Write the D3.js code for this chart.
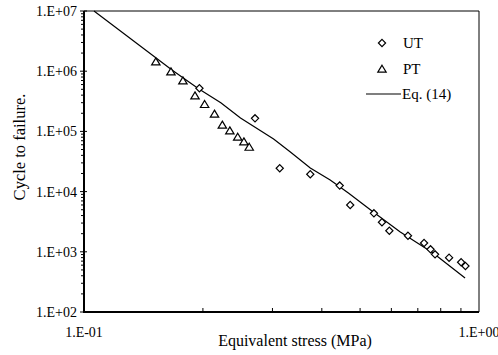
<!DOCTYPE html>
<html>
<head>
<meta charset="utf-8">
<script src="https://cdn.jsdelivr.net/npm/d3@7"></script>
<style>
  body { margin: 0; background: #fff; }
  svg text { font-family: "Liberation Serif", "Times New Roman", serif; fill: #000; }
</style>
</head>
<body>
<div class="svg-container"></div>
<script>
/* global d3 */

// UT data: [stress (MPa), cycles]
var utStress = [0.196, 0.271, 0.313, 0.374, 0.444, 0.472, 0.542, 0.568, 0.593, 0.661, 0.726, 0.754, 0.774, 0.840, 0.901, 0.924]
var utCycles = [5.2e5, 1.65e5, 2.44e4, 1.94e4, 1.26e4, 6.0e3, 4.36e3, 3.1e3, 2.24e3, 1.85e3, 1.40e3, 1.10e3, 908, 798, 670, 581]

// PT data
var ptStress = [0.152, 0.166, 0.178, 0.191, 0.202, 0.214, 0.224, 0.234, 0.245, 0.254, 0.262]
var ptCycles = [1.44e6, 9.8e5, 6.95e5, 3.92e5, 2.82e5, 1.95e5, 1.28e5, 1.03e5, 8.07e4, 6.75e4, 5.5e4]

// Eq. (14) curve
var eqStress = [0.106, 0.167, 0.195, 0.222, 0.249, 0.302, 0.333, 0.374, 0.420, 0.467, 0.540, 0.632, 0.765, 0.922]
var eqCycles = [1e7, 1.05e6, 5.1e5, 3.0e5, 1.67e5, 7.5e4, 4.55e4, 2.47e4, 1.56e4, 9.5e3, 4.6e3, 2.13e3, 955, 367]

var xTicks = [0.1, 1]
var xTickLabels = ['1.E-01', '1.E+00']
var yTicks = [1e2, 1e3, 1e4, 1e5, 1e6, 1e7]
var yTickLabels = ['1.E+02', '1.E+03', '1.E+04', '1.E+05', '1.E+06', '1.E+07']

;(function () {
  var width = 498
  var height = 355
  var plotLeft = 84
  var plotRight = 479
  var plotTop = 11
  var plotBottom = 312

  var svg = d3.select('.svg-container').append('svg')
      .attr('width', width)
      .attr('height', height)

  var scaleX = d3.scaleLog()
      .domain([0.1, 1])
      .range([plotLeft, plotRight])

  var scaleY = d3.scaleLog()
      .domain([1e2, 1e7])
      .range([plotBottom, plotTop])

  // frame: thin top and right
  svg.append('path')
      .attr('d', 'M' + plotLeft + ',' + plotTop + 'H' + plotRight + 'V' + plotBottom)
      .attr('fill', 'none')
      .attr('stroke', '#000')
      .attr('stroke-width', 1)

  // minor ticks
  var xMinor = []
  var yMinor = []
  for (var k = 2; k <= 9; k++) {
    xMinor.push(k * 0.1)
  }
  for (var e = 2; e < 7; e++) {
    for (var m = 2; m <= 9; m++) {
      yMinor.push(m * Math.pow(10, e))
    }
  }

  svg.selectAll('line.xMinor')
      .data(xMinor)
      .enter()
      .append('line')
      .attr('class', 'xMinor')
      .attr('x1', function (d) { return scaleX(d) })
      .attr('x2', function (d) { return scaleX(d) })
      .attr('y1', plotBottom)
      .attr('y2', plotBottom - 4)
      .attr('stroke', '#000')

  svg.selectAll('line.yMinor')
      .data(yMinor)
      .enter()
      .append('line')
      .attr('class', 'yMinor')
      .attr('x1', plotLeft - 3)
      .attr('x2', plotLeft + 1)
      .attr('y1', function (d) { return scaleY(d) })
      .attr('y2', function (d) { return scaleY(d) })
      .attr('stroke', '#000')

  svg.selectAll('line.yMajor')
      .data(yTicks)
      .enter()
      .append('line')
      .attr('class', 'yMajor')
      .attr('x1', plotLeft - 4)
      .attr('x2', plotLeft + 3)
      .attr('y1', function (d) { return scaleY(d) })
      .attr('y2', function (d) { return scaleY(d) })
      .attr('stroke', '#000')

  // thick left and bottom axes
  svg.append('path')
      .attr('d', 'M' + plotLeft + ',' + plotTop + 'V' + plotBottom + 'H' + plotRight)
      .attr('fill', 'none')
      .attr('stroke', '#000')
      .attr('stroke-width', 2)

  svg.selectAll('text.yLabel')
      .data(yTicks)
      .enter()
      .append('text')
      .attr('class', 'yLabel')
      .attr('x', 77)
      .attr('y', function (d) { return scaleY(d) })
      .attr('dy', '0.35em')
      .attr('text-anchor', 'end')
      .attr('font-size', '14px')
      .text(function (d, i) { return yTickLabels[i] })

  svg.selectAll('text.xLabel')
      .data(xTicks)
      .enter()
      .append('text')
      .attr('class', 'xLabel')
      .attr('x', function (d) { return scaleX(d) })
      .attr('y', 337)
      .attr('text-anchor', 'middle')
      .attr('font-size', '14px')
      .text(function (d, i) { return xTickLabels[i] })

  svg.append('text')
      .attr('x', 295)
      .attr('y', 346)
      .attr('text-anchor', 'middle')
      .attr('font-size', '16px')
      .text('Equivalent stress (MPa)')

  svg.append('text')
      .attr('transform', 'translate(25,147) rotate(-90)')
      .attr('text-anchor', 'middle')
      .attr('font-size', '16.5px')
      .text('Cycle to failure.')

  // Eq. (14) line
  var eqData = eqStress.map(function (d, i) { return [d, eqCycles[i]] })
  var line = d3.line()
      .x(function (d) { return scaleX(d[0]) })
      .y(function (d) { return scaleY(d[1]) })

  svg.append('path')
      .datum(eqData)
      .attr('d', line)
      .attr('fill', 'none')
      .attr('stroke', '#000')
      .attr('stroke-width', 1.2)

  var diamondPath = 'M0,-3.6L3.6,0L0,3.6L-3.6,0Z'
  var trianglePath = 'M0,-3.8L4.2,3.2L-4.2,3.2Z'

  svg.selectAll('path.ut')
      .data(utStress)
      .enter()
      .append('path')
      .attr('class', 'ut')
      .attr('d', diamondPath)
      .attr('transform', function (d, i) {
        return 'translate(' + scaleX(d) + ',' + scaleY(utCycles[i]) + ')'
      })
      .attr('fill', '#fff')
      .attr('stroke', '#000')
      .attr('stroke-width', 1.2)

  svg.selectAll('path.pt')
      .data(ptStress)
      .enter()
      .append('path')
      .attr('class', 'pt')
      .attr('d', trianglePath)
      .attr('transform', function (d, i) {
        return 'translate(' + scaleX(d) + ',' + scaleY(ptCycles[i]) + ')'
      })
      .attr('fill', '#fff')
      .attr('stroke', '#000')
      .attr('stroke-width', 1.2)

  // legend
  var legend = svg.append('g').attr('class', 'legend')

  legend.append('path')
      .attr('d', diamondPath)
      .attr('transform', 'translate(382,43)')
      .attr('fill', '#fff')
      .attr('stroke', '#000')
      .attr('stroke-width', 1.2)

  legend.append('path')
      .attr('d', trianglePath)
      .attr('transform', 'translate(382,69)')
      .attr('fill', '#fff')
      .attr('stroke', '#000')
      .attr('stroke-width', 1.2)

  legend.append('line')
      .attr('x1', 366)
      .attr('x2', 401)
      .attr('y1', 94)
      .attr('y2', 94)
      .attr('stroke', '#000')
      .attr('stroke-width', 1.2)

  legend.selectAll('text')
      .data(['UT', 'PT', 'Eq. (14)'])
      .enter()
      .append('text')
      .attr('x', function (d, i) { return i === 2 ? 402 : 403 })
      .attr('y', function (d, i) { return [43, 69, 94][i] })
      .attr('dy', '0.35em')
      .attr('font-size', '15px')
      .text(function (d) { return d })
})()
</script>
</body>
</html>
